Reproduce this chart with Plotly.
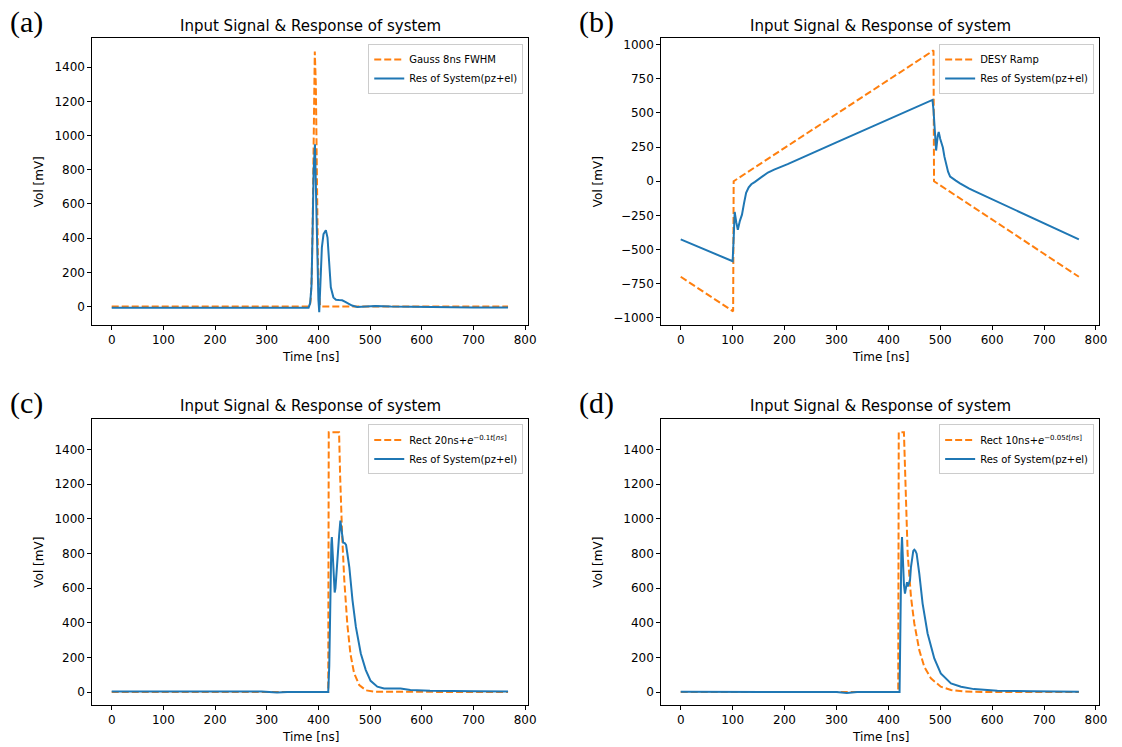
import plotly.graph_objects as go

W, H = 1122, 747
ORANGE = "#ff7f0e"
BLUE = "#1f77b4"

# ---------------- data ----------------
# (a) Gauss 8ns FWHM
a_in_t = [0, 383, 385, 387, 389, 391, 393, 395, 397, 399, 401, 403, 405, 767]
a_in_v = [0, 0, 40, 170, 520, 1100, 1492, 1300, 760, 290, 80, 12, 0, 0]
a_out_t = [0, 200, 260, 300, 370, 381, 384, 386.6, 388.8, 390.7, 393.3, 395.8, 398.4, 400, 401.6,
           403.5, 406.7, 409.9, 414.4, 417.6, 420.8, 424, 429, 434, 440, 446, 452, 458, 465, 475,
           490, 510, 540, 600, 700, 767]
a_out_v = [-7, -7, -5, -7, -7, -6, 20, 120, 443, 793, 949, 638, 152, 40, -33,
           130, 346, 424, 447, 404, 248, 113, 54, 40, 38, 37, 28, 18, 6, -2,
           0, 3, 0, -3, -5, -5]

# (b) DESY Ramp
b_in_t = [0, 101, 102, 487, 488, 767]
b_in_v = [-700, -953, 0, 958, 0, -700]
b_out_t = [0, 100, 102, 104, 107, 110, 114, 118, 122, 126, 131, 136, 143, 150, 158, 168, 180, 190, 206, 300, 400,
           485, 487, 490, 492, 495, 497, 500, 505, 508, 511, 515, 519, 525, 530, 538, 546, 555, 565, 767]
b_out_v = [-426, -586, -420, -225, -300, -355, -290, -245, -160, -85, -45, -22, -5, 15, 40, 64, 85, 100, 125, 285, 455,
           596, 520, 300, 225, 330, 360, 310, 247, 180, 125, 70, 34, 16, 5, -15, -34, -53, -71, -426]

# (c) Rect 20ns + e^{-0.1t}
c_in_t = [0, 419, 420, 440, 442, 444, 446, 450, 456, 462, 469, 479, 492, 510, 767]
c_in_v = [0, 0, 1500, 1500, 1250, 1060, 900, 650, 390, 220, 110, 40, 10, 2, 0]
c_out_t = [0, 250, 270, 290, 320, 340, 400, 419, 421, 423, 425, 426, 428, 430, 431.5, 433, 436, 438,
           440, 442.5, 444, 446, 448, 451, 453.5, 456, 459.8, 466, 472.5, 482, 491.7, 501, 514, 527,
           545, 559, 578, 616, 700, 767]
c_out_v = [3, 2, 6, 3, -3, 0, 0, 0, 150, 600, 850, 895, 780, 620, 575, 600, 760, 830,
           900, 990, 950, 880, 862, 860, 850, 800, 722, 530, 376, 223, 127, 65, 31, 21,
           20, 21, 12, 8, 5, 3]

# (d) Rect 10ns + e^{-0.05t}
d_in_t = [0, 419, 420, 430, 431, 432, 434, 437.2, 443.6, 450, 459.6, 469.2, 482, 501, 520.6, 546, 600, 767]
d_in_v = [0, 0, 1500, 1500, 1400, 1317, 1029, 799, 549, 396, 242, 146, 79, 31, 12, 3, 0, 0]
d_out_t = [0, 300, 320, 340, 421.6, 423, 425, 426.3, 428, 430, 432, 434, 435.9, 437.5, 439, 441.7,
           443.5, 445.5, 448, 450, 452, 454.5, 457, 459.6, 466, 475.6, 488.5, 501, 520.6, 540, 565,
           610, 674, 767]
d_out_v = [2, 0, -5, 0, 0, 400, 800, 895, 750, 620, 568, 600, 635, 610, 626, 645,
           720, 779, 815, 822, 815, 799, 750, 684, 511, 338, 194, 108, 50, 31, 17,
           8, 5, 2]

panels = [
    ("(a)", "Gauss 8ns FWHM", a_in_t, a_in_v, a_out_t, a_out_v, [-105, 1568], [0, 200, 400, 600, 800, 1000, 1200, 1400]),
    ("(b)", "DESY Ramp", b_in_t, b_in_v, b_out_t, b_out_v, [-1050, 1046], [-1000, -750, -500, -250, 0, 250, 500, 750, 1000]),
    ("(c)", "Rect 20ns+<i>e</i><sup>−0.1<i>t</i>[<i>ns</i>]</sup>", c_in_t, c_in_v, c_out_t, c_out_v, [-75, 1577], [0, 200, 400, 600, 800, 1000, 1200, 1400]),
    ("(d)", "Rect 10ns+<i>e</i><sup>−0.05<i>t</i>[<i>ns</i>]</sup>", d_in_t, d_in_v, d_out_t, d_out_v, [-75, 1577], [0, 200, 400, 600, 800, 1000, 1200, 1400]),
]
x_ticks = [0, 100, 200, 300, 400, 500, 600, 700, 800]
title_text = "Input Signal &amp; Response of system"
res_name = "Res of System(pz+el)"

# ---------------- layout geometry (pixels) ----------------
cols = [(93, 532), (666, 1107)]
rows = [(37.5, 324), (418.5, 705)]
ylab_x = [39, 602]
plabel_x = [27, 601]


def px(x):
    return x / W


def py(y):
    return 1 - y / H


fig = go.Figure()
annotations = []
layout = dict(
    width=W, height=H, margin=dict(l=0, r=0, t=0, b=0),
    paper_bgcolor="white", plot_bgcolor="white",
    font=dict(family="DejaVu Sans", size=12, color="black"),
)

for i, (plabel, in_name, tin, vin, tout, vout, yr, yt) in enumerate(panels):
    r, c = divmod(i, 2)
    x0, x1 = cols[c]
    y0, y1 = rows[r]
    n = "" if i == 0 else str(i + 1)
    xa, ya = "x" + n, "y" + n
    lg = "legend" + n
    fig.add_trace(go.Scatter(x=tin, y=vin, mode="lines", name=in_name,
                             line=dict(color=ORANGE, width=2, dash="7px,3px"),
                             xaxis=xa, yaxis=ya, legend=lg))
    fig.add_trace(go.Scatter(x=tout, y=vout, mode="lines", name=res_name,
                             line=dict(color=BLUE, width=2),
                             xaxis=xa, yaxis=ya, legend=lg))
    axcommon = dict(showline=True, linecolor="black", linewidth=1, mirror=True,
                    ticks="outside", ticklen=4, tickwidth=1, tickcolor="black",
                    showgrid=False, zeroline=False,
                    tickfont=dict(family="DejaVu Sans", size=12, color="black"))
    layout["xaxis" + n] = dict(axcommon, domain=[px(x0), px(x1)], range=[-37.5, 806],
                               tickvals=x_ticks, anchor=ya)
    layout["yaxis" + n] = dict(axcommon, domain=[py(y1), py(y0)], range=yr,
                               tickvals=yt, anchor=xa)
    layout[lg] = dict(x=px(x1 - 5), xanchor="right", y=py(y0 + 5.5), yanchor="top",
                      bgcolor="rgba(255,255,255,0.85)", bordercolor="#cccccc", borderwidth=1,
                      font=dict(family="DejaVu Sans", size=10, color="black"),
                      tracegroupgap=0, itemwidth=30)
    cx = (x0 + x1) / 2
    annotations.append(dict(text=title_text, x=px(cx), y=py(y0 - 12.5), xref="paper", yref="paper",
                            showarrow=False, xanchor="center", yanchor="middle",
                            font=dict(family="DejaVu Sans", size=15, color="black")))
    annotations.append(dict(text="Time [ns]", x=px(cx), y=py(y1 + 32), xref="paper", yref="paper",
                            showarrow=False, xanchor="center", yanchor="middle",
                            font=dict(family="DejaVu Sans", size=12, color="black")))
    annotations.append(dict(text="Vol [mV]", x=px(ylab_x[c]), y=py((y0 + y1) / 2), xref="paper", yref="paper",
                            showarrow=False, xanchor="center", yanchor="middle", textangle=-90,
                            font=dict(family="DejaVu Sans", size=12, color="black")))
    annotations.append(dict(text=plabel, x=px(plabel_x[c]), y=py(y0 - 16), xref="paper", yref="paper",
                            showarrow=False, xanchor="center", yanchor="middle",
                            font=dict(family="Liberation Serif", size=30, color="black")))

layout["annotations"] = annotations
fig.update_layout(**layout)
fig.write_html("out.html")
